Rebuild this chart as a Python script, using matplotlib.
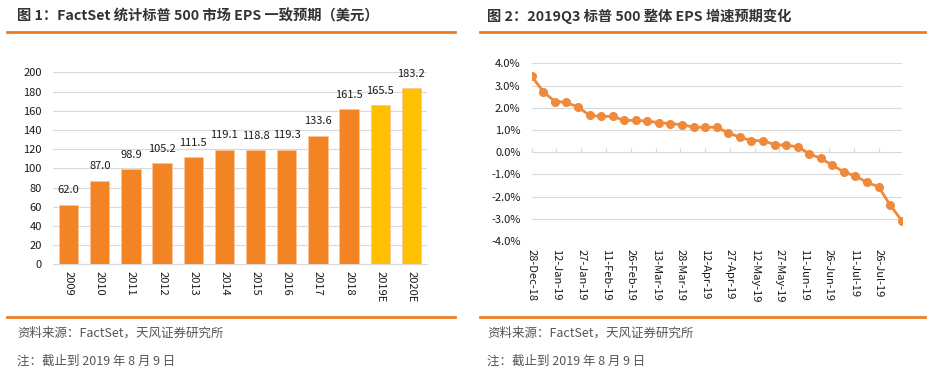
import matplotlib
matplotlib.use("Agg")
import matplotlib.pyplot as plt
import matplotlib.dates as mdates
import pandas as pd
import numpy as np

plt.rcParams['font.family'] = ['Noto Sans CJK SC', 'DejaVu Sans']

# ---- data ----
years = ['2009', '2010', '2011', '2012', '2013', '2014', '2015', '2016', '2017', '2018', '2019E', '2020E']
eps = [62.0, 87.0, 98.9, 105.2, 111.5, 119.1, 118.8, 119.3, 133.6, 161.5, 165.5, 183.2]
is_estimate = [False] * 10 + [True, True]

dates = pd.date_range('2018-12-28', periods=33, freq='7D')
growth = [3.42, 2.72, 2.28, 2.24, 2.03, 1.66, 1.61, 1.61, 1.43, 1.43, 1.40, 1.33,
          1.28, 1.24, 1.12, 1.12, 1.12, 0.87, 0.67, 0.52, 0.52, 0.34, 0.31, 0.24,
          -0.07, -0.28, -0.59, -0.89, -1.08, -1.36, -1.56, -2.38, -3.08]
date_ticks = pd.date_range('2018-12-28', periods=15, freq='15D')

title1 = '图 1：FactSet 统计标普 500 市场 EPS 一致预期（美元）'
title2 = '图 2：2019Q3 标普 500 整体 EPS 增速预期变化'
source = '资料来源：FactSet，天风证券研究所'
note = '注：截止到 2019 年 8 月 9 日'

ORANGE = '#F28424'
YELLOW = '#FFC000'
LINE = '#EF8A3C'
GRID = '#D9D9D9'
TXT = '#1a1a1a'

W, H = 934, 376
fig = plt.figure(figsize=(W / 100, H / 100), dpi=100)

def fx(px):
    return px / W

def fy(py):
    return 1 - py / H

# titles and rules
fig.text(fx(17), fy(16.5), title1, fontsize=10.3, fontweight='bold', color='#333333', va='center', ha='left')
fig.text(fx(487), fy(16.5), title2, fontsize=10.3, fontweight='bold', color='#333333', va='center', ha='left')
for x0, x1 in [(7, 455), (480, 925)]:
    fig.add_artist(plt.Line2D([fx(x0), fx(x1)], [fy(31.5), fy(31.5)], color='#EE7D23', lw=2))
    fig.add_artist(plt.Line2D([fx(x0), fx(x1)], [fy(317), fy(317)], color='#EE7D23', lw=2))
for x0 in [17, 487]:
    fig.text(fx(x0), fy(333), source, fontsize=9, color='#555555', va='center', ha='left')
    fig.text(fx(x0), fy(361), note, fontsize=9, color='#555555', va='center', ha='left')

# ---- left bar chart ----
ax1 = fig.add_axes([fx(53), fy(264.3), fx(427) - fx(53), fy(72.3) - fy(264.3)])
xs = np.arange(len(years))
colors = [YELLOW if e else ORANGE for e in is_estimate]
ax1.bar(xs, eps, width=0.62, color=colors, edgecolor='#F8C6A0', linewidth=0.6, zorder=3)
for x, v in zip(xs, eps):
    ax1.annotate(f'{v:.1f}', (x, v), xytext=(0, 7), textcoords='offset points',
                 ha='center', va='bottom', fontsize=8, color=TXT)
ax1.set_xlim(-0.5, len(years) - 0.5)
ax1.set_ylim(0, 200)
ax1.set_yticks(np.arange(0, 201, 20))
ax1.yaxis.grid(True, color=GRID, lw=0.8, zorder=0)
ax1.set_xticks(xs)
ax1.set_xticklabels(years, rotation=-90, fontsize=8, color=TXT)
ax1.tick_params(axis='y', length=0, labelsize=8, labelcolor=TXT, pad=8)
ax1.tick_params(axis='x', length=0, pad=5)
for s in ['top', 'right', 'left']:
    ax1.spines[s].set_visible(False)
ax1.spines['bottom'].set_color(GRID)

# ---- right line chart ----
ax2 = fig.add_axes([fx(531.7), fy(241), fx(901.7) - fx(531.7), fy(63.3) - fy(241)])
ax2.plot(dates, growth, color=LINE, lw=2, marker='o', markersize=5.5, zorder=3)
ax2.set_xlim(dates[0], dates[-1])
ax2.set_ylim(-4, 4)
ax2.set_yticks(np.arange(-4, 4.01, 1))
ax2.yaxis.set_major_formatter(plt.FuncFormatter(lambda v, p: f'{v:.1f}%'))
ax2.yaxis.grid(True, color=GRID, lw=0.8, zorder=0)
ax2.set_xticks(date_ticks)
ax2.xaxis.set_major_formatter(mdates.DateFormatter('%d-%b-%y'))
plt.setp(ax2.get_xticklabels(), rotation=-90, fontsize=8, color=TXT)
ax2.tick_params(axis='y', length=0, labelsize=8, labelcolor=TXT, pad=8)
ax2.tick_params(axis='x', length=0, pad=6)
for s in ['top', 'right', 'left', 'bottom']:
    ax2.spines[s].set_visible(False)
sec = ax2.secondary_xaxis(0.5)
sec.set_xticks(date_ticks)
sec.tick_params(axis='x', length=3, color=GRID, labelbottom=False, labeltop=False, direction='out')
sec.spines['bottom'].set_color(GRID)
sec.spines['top'].set_visible(False)

fig.savefig('out.png', dpi=100)
